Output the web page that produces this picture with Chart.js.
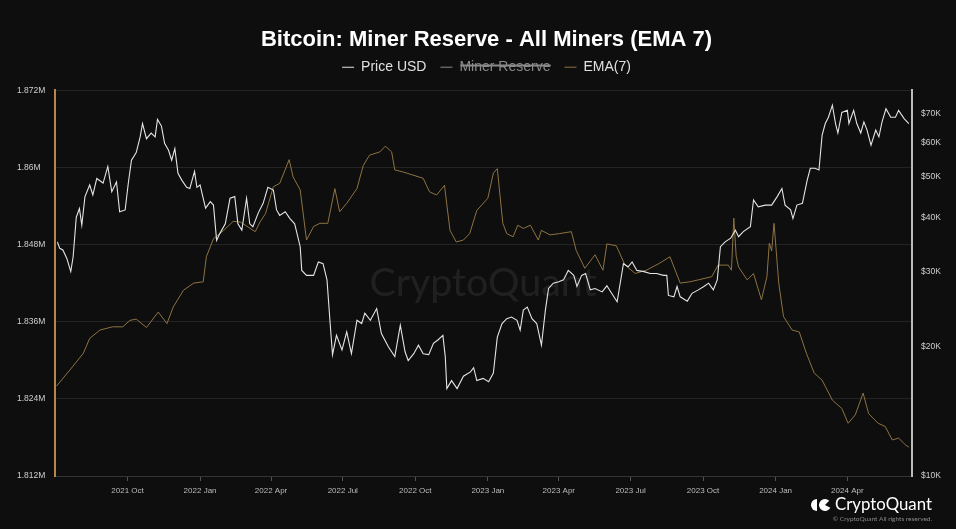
<!DOCTYPE html>
<html>
<head>
<meta charset="utf-8">
<script src="https://cdn.jsdelivr.net/npm/chart.js@4/dist/chart.umd.min.js"></script>
<style>
  html, body { margin: 0; padding: 0; background: #0e0e0e; }
  canvas { display: block; }
</style>
</head>
<body>
<canvas id="myChart" width="956" height="529"></canvas>
<script>
// BTC price, USD
const priceDates = [
  '2021-07-04','2021-07-07','2021-07-11','2021-07-16','2021-07-21','2021-07-24','2021-07-28','2021-08-01','2021-08-04','2021-08-08',
  '2021-08-14','2021-08-18','2021-08-23','2021-08-31','2021-09-06','2021-09-11','2021-09-17','2021-09-21','2021-09-28','2021-10-02',
  '2021-10-06','2021-10-12','2021-10-17','2021-10-20','2021-10-25','2021-10-31','2021-11-05','2021-11-08','2021-11-13','2021-11-17',
  '2021-11-22','2021-11-26','2021-11-30','2021-12-04','2021-12-09','2021-12-15','2021-12-19','2021-12-25','2021-12-28','2022-01-01',
  '2022-01-05','2022-01-08','2022-01-14','2022-01-18','2022-01-22','2022-01-26','2022-02-02','2022-02-08','2022-02-14','2022-02-18',
  '2022-02-23','2022-03-01','2022-03-05','2022-03-09','2022-03-16','2022-03-22','2022-03-28','2022-04-04','2022-04-08','2022-04-12',
  '2022-04-19','2022-04-25','2022-05-01','2022-05-08','2022-05-10','2022-05-16','2022-05-25','2022-05-31','2022-06-06','2022-06-11',
  '2022-06-15','2022-06-18','2022-06-23','2022-06-30','2022-07-06','2022-07-12','2022-07-19','2022-07-25','2022-07-29','2022-08-05',
  '2022-08-13','2022-08-19','2022-08-28','2022-09-05','2022-09-12','2022-09-18','2022-09-22','2022-09-29','2022-10-05','2022-10-11',
  '2022-10-18','2022-10-24','2022-10-30','2022-11-05','2022-11-08','2022-11-10','2022-11-16','2022-11-23','2022-12-01','2022-12-10',
  '2022-12-14','2022-12-18','2022-12-26','2023-01-02','2023-01-08','2023-01-13','2023-01-19','2023-01-25','2023-01-31','2023-02-07',
  '2023-02-11','2023-02-15','2023-02-20','2023-02-26','2023-03-04','2023-03-10','2023-03-15','2023-03-19','2023-03-25','2023-04-01',
  '2023-04-07','2023-04-13','2023-04-20','2023-04-24','2023-04-30','2023-05-05','2023-05-11','2023-05-17','2023-05-26','2023-06-01',
  '2023-06-07','2023-06-14','2023-06-22','2023-06-28','2023-07-03','2023-07-09','2023-07-18','2023-07-26','2023-08-03','2023-08-12',
  '2023-08-16','2023-08-18','2023-08-25','2023-08-29','2023-09-02','2023-09-11','2023-09-17','2023-09-25','2023-10-02','2023-10-08',
  '2023-10-14','2023-10-19','2023-10-23','2023-10-29','2023-11-05','2023-11-11','2023-11-15','2023-11-21','2023-11-30','2023-12-04',
  '2023-12-10','2023-12-19','2023-12-27','2024-01-03','2024-01-09','2024-01-13','2024-01-20','2024-01-23','2024-01-28','2024-02-04',
  '2024-02-10','2024-02-14','2024-02-20','2024-02-25','2024-02-29','2024-03-04','2024-03-08','2024-03-13','2024-03-17','2024-03-20',
  '2024-03-25','2024-04-01','2024-04-03','2024-04-09','2024-04-13','2024-04-18','2024-04-22','2024-04-26','2024-05-01','2024-05-07',
  '2024-05-11','2024-05-15','2024-05-20','2024-05-26','2024-06-01','2024-06-05','2024-06-12','2024-06-18'
]
const priceUsd = [
  35200,34000,33700,32200,30000,32500,40200,42100,38500,44900,
  47800,45300,49500,48300,52800,46100,48600,41400,41800,48300,
  54600,56900,61900,66500,61300,63200,61900,68000,65600,59800,
  57600,54600,58100,50900,49000,47200,46900,51400,47200,47800,
  44500,42200,43700,42900,35500,36800,38800,44500,44900,38800,
  37500,44500,38800,38200,41200,43300,47200,46500,41800,40600,
  41400,39900,38800,34300,30200,29400,29400,31600,31300,28700,
  22700,19200,21300,19700,21700,19300,23100,22700,24000,23100,
  24600,21500,20000,19000,22500,19500,18600,19300,20200,19300,
  19200,20400,20800,21300,19000,16000,16700,16000,17100,17500,
  17900,16700,16900,16600,17400,21100,22700,23300,23500,23100,
  21900,24400,24800,23300,22700,20200,24400,27400,28200,28400,
  28700,30200,29400,27700,29400,29700,27200,27400,26900,27800,
  26700,25500,31300,30800,31600,30200,30000,29700,29700,29400,
  29400,26400,26200,27700,26200,25600,26700,27200,27700,28200,
  27200,28700,34300,35200,35900,37500,36200,37200,38200,44100,
  42500,42900,42900,44900,46900,42900,41800,39900,42900,43300,
  49000,52300,52300,51800,62500,66500,68800,73400,66500,63200,
  70600,71400,66500,71400,66500,63200,67100,64200,59200,64200,
  61900,67100,72000,68800,68800,71400,68300,66500
]

// Miner reserve EMA(7), millions of BTC (left axis)
const emaDates = [
  '2021-07-03','2021-07-20','2021-08-06','2021-08-14','2021-08-27','2021-09-12','2021-09-25','2021-10-04','2021-10-12','2021-10-25',
  '2021-11-09','2021-11-20','2021-11-28','2021-12-11','2021-12-24','2022-01-05','2022-01-09','2022-01-18','2022-01-31','2022-02-12',
  '2022-02-21','2022-03-12','2022-03-18','2022-03-25','2022-04-04','2022-04-12','2022-04-24','2022-04-29','2022-05-08','2022-05-16',
  '2022-05-25','2022-06-02','2022-06-12','2022-06-21','2022-06-27','2022-07-06','2022-07-19','2022-07-27','2022-08-04','2022-08-17',
  '2022-08-24','2022-09-01','2022-09-05','2022-09-15','2022-09-28','2022-10-11','2022-10-19','2022-10-28','2022-11-07','2022-11-14',
  '2022-11-22','2022-12-01','2022-12-09','2022-12-18','2023-01-01','2023-01-08','2023-01-13','2023-01-20','2023-01-25','2023-02-02',
  '2023-02-08','2023-02-15','2023-02-24','2023-03-06','2023-03-10','2023-03-21','2023-04-02','2023-04-17','2023-04-23','2023-05-04',
  '2023-05-17','2023-05-27','2023-06-01','2023-06-13','2023-06-24','2023-07-07','2023-07-21','2023-08-07','2023-08-20','2023-09-02',
  '2023-09-14','2023-09-25','2023-10-12','2023-10-20','2023-11-02','2023-11-06','2023-11-09','2023-11-12','2023-11-15','2023-11-26',
  '2023-12-04','2023-12-14','2023-12-21','2023-12-24','2023-12-27','2023-12-30','2024-01-05','2024-01-11','2024-01-22','2024-01-31',
  '2024-02-09','2024-02-19','2024-02-29','2024-03-13','2024-03-25','2024-04-02','2024-04-11','2024-04-21','2024-04-28','2024-05-10',
  '2024-05-19','2024-05-28','2024-06-05','2024-06-14','2024-06-18'
]
const emaReserve = [
  1.8260,1.8285,1.8311,1.8334,1.8347,1.8352,1.8352,1.8362,1.8364,1.8351,
  1.8375,1.8357,1.8383,1.8409,1.8420,1.8422,1.8461,1.8489,1.8502,1.8516,
  1.8515,1.8500,1.8515,1.8528,1.8570,1.8575,1.8612,1.8585,1.8565,1.8487,
  1.8508,1.8513,1.8513,1.8567,1.8531,1.8544,1.8567,1.8603,1.8619,1.8624,
  1.8633,1.8624,1.8596,1.8593,1.8588,1.8583,1.8562,1.8557,1.8572,1.8502,
  1.8484,1.8487,1.8497,1.8533,1.8552,1.8591,1.8598,1.8513,1.8497,1.8492,
  1.8510,1.8505,1.8510,1.8487,1.8502,1.8495,1.8497,1.8500,1.8471,1.8443,
  1.8464,1.8440,1.8481,1.8478,1.8448,1.8435,1.8440,1.8451,1.8461,1.8420,
  1.8422,1.8425,1.8430,1.8448,1.8448,1.8440,1.8521,1.8462,1.8445,1.8425,
  1.8435,1.8394,1.8430,1.8482,1.8470,1.8513,1.8420,1.8368,1.8347,1.8344,
  1.8311,1.8280,1.8269,1.8238,1.8225,1.8202,1.8215,1.8249,1.8217,1.8202,
  1.8197,1.8176,1.8179,1.8168,1.8165
]

const reserveTicks = [1.812, 1.824, 1.836, 1.848, 1.86, 1.872]
const priceTicks = [10000, 20000, 30000, 40000, 50000, 60000, 70000]
const xTickDates = ['2021-10-01','2022-01-01','2022-04-01','2022-07-01','2022-10-01','2023-01-01','2023-04-01','2023-07-01','2023-10-01','2024-01-01','2024-04-01']
const xTickLabels = ['2021 Oct','2022 Jan','2022 Apr','2022 Jul','2022 Oct','2023 Jan','2023 Apr','2023 Jul','2023 Oct','2024 Jan','2024 Apr']

const toPoints = (dates, values) => dates.map((d, i) => ({ x: Date.parse(d), y: values[i] }))

const brand = {
  id: 'brand',
  beforeDatasetsDraw(chart) {
    const ctx = chart.ctx
    ctx.save()
    ctx.font = '34px Lato'
    const size = 34 * 227 / ctx.measureText('CryptoQuant').width
    ctx.font = size + 'px Lato'
    ctx.fillStyle = 'rgba(255,255,255,0.08)'
    ctx.textAlign = 'center'
    ctx.textBaseline = 'middle'
    ctx.fillText('CryptoQuant', 483, 283)
    ctx.restore()
  },
  afterDraw(chart) {
    const ctx = chart.ctx
    ctx.save()
    ctx.fillStyle = '#ffffff'
    // logo marks
    ctx.beginPath()
    ctx.arc(817, 505, 6, Math.PI / 2, Math.PI * 1.5)
    ctx.closePath()
    ctx.fill()
    ctx.beginPath()
    ctx.moveTo(825, 505)
    ctx.arc(825, 505, 6, Math.PI * 0.15, Math.PI * 1.75)
    ctx.closePath()
    ctx.fill()
    ctx.font = '17px Lato'
    const size = 17 * 97 / ctx.measureText('CryptoQuant').width
    ctx.font = size + 'px Lato'
    ctx.textAlign = 'right'
    ctx.textBaseline = 'middle'
    ctx.fillText('CryptoQuant', 932, 505)
    ctx.font = '6.5px Lato'
    ctx.fillStyle = '#8a8a8a'
    ctx.fillText('© CryptoQuant All rights reserved.', 932, 519)
    ctx.restore()
  }
}

const ctx = document.getElementById('myChart')
new Chart(ctx, {
  type: 'line',
  data: {
    datasets: [
      {
        label: 'Price USD',
        data: toPoints(priceDates, priceUsd),
        yAxisID: 'yPrice',
        borderColor: '#e4e4e4',
        backgroundColor: '#e4e4e4',
        borderWidth: 1.1,
        pointRadius: 0,
        tension: 0
      },
      {
        label: 'Miner Reserve',
        data: [],
        hidden: true,
        yAxisID: 'yRes',
        borderColor: '#8a8a8a',
        backgroundColor: '#8a8a8a',
        borderWidth: 1,
        pointRadius: 0
      },
      {
        label: 'EMA(7)',
        data: toPoints(emaDates, emaReserve),
        yAxisID: 'yRes',
        borderColor: '#8e7342',
        backgroundColor: '#8e7342',
        borderWidth: 1,
        pointRadius: 0,
        tension: 0
      }
    ]
  },
  options: {
    responsive: false,
    animation: false,
    devicePixelRatio: 1,
    layout: { padding: { left: 17, right: 0, top: 0, bottom: 0 } },
    plugins: {
      title: {
        display: true,
        text: 'Bitcoin: Miner Reserve - All Miners (EMA 7)',
        color: '#ffffff',
        font: { family: 'Liberation Sans', size: 22, weight: 'bold', lineHeight: 0.6 },
        padding: { top: 33, bottom: 0 }
      },
      subtitle: {
        display: true,
        text: '',
        weight: 500,
        font: { size: 6, lineHeight: 1 },
        padding: 0
      },
      legend: {
        labels: {
          color: '#e0e0e0',
          font: { family: 'Liberation Sans', size: 14 },
          usePointStyle: true,
          pointStyle: 'line',
          pointStyleWidth: 12,
          padding: 14,
          generateLabels(chart) {
            const items = Chart.defaults.plugins.legend.labels.generateLabels(chart)
            items.forEach(item => { if (item.hidden) item.fontColor = '#8a8a8a' })
            return items
          }
        }
      },
      tooltip: { enabled: false }
    },
    scales: {
      x: {
        type: 'linear',
        min: Date.parse('2021-07-01'),
        max: Date.parse('2024-06-22'),
        afterBuildTicks(scale) {
          scale.ticks = xTickDates.map(d => ({ value: Date.parse(d) }))
        },
        afterFit(scale) { scale.height = 53 },
        ticks: {
          autoSkip: false,
          maxRotation: 0,
          color: '#bbbbbb',
          font: { family: 'Liberation Sans', size: 8 },
          padding: 5,
          callback: (v, i) => xTickLabels[i]
        },
        grid: { drawOnChartArea: false, drawTicks: true, tickLength: 5, color: '#555555' },
        border: { color: '#333333' }
      },
      yRes: {
        type: 'linear',
        position: 'left',
        min: reserveTicks[0],
        max: reserveTicks[reserveTicks.length - 1],
        afterBuildTicks(scale) {
          scale.ticks = reserveTicks.map(v => ({ value: v }))
        },
        afterFit(scale) { scale.width = 38 },
        ticks: {
          crossAlign: 'far',
          color: '#cfcfcf',
          font: { family: 'Liberation Sans', size: 8.5 },
          callback: v => Number(v.toFixed(3)) + 'M'
        },
        grid: { color: '#242424', drawTicks: false },
        border: { color: '#b8864a', width: 2 }
      },
      yPrice: {
        type: 'logarithmic',
        position: 'right',
        min: 10000,
        max: 79560,
        afterBuildTicks(scale) {
          scale.ticks = priceTicks.map(v => ({ value: v }))
        },
        afterFit(scale) { scale.width = 44 },
        ticks: {
          color: '#cfcfcf',
          padding: 9,
          font: { family: 'Liberation Sans', size: 8.5 },
          callback: v => '$' + (v / 1000) + 'K'
        },
        grid: { drawOnChartArea: false, drawTicks: false },
        border: { color: '#bbbbbb', width: 2 }
      }
    }
  },
  plugins: [brand]
})
</script>
</body>
</html>
